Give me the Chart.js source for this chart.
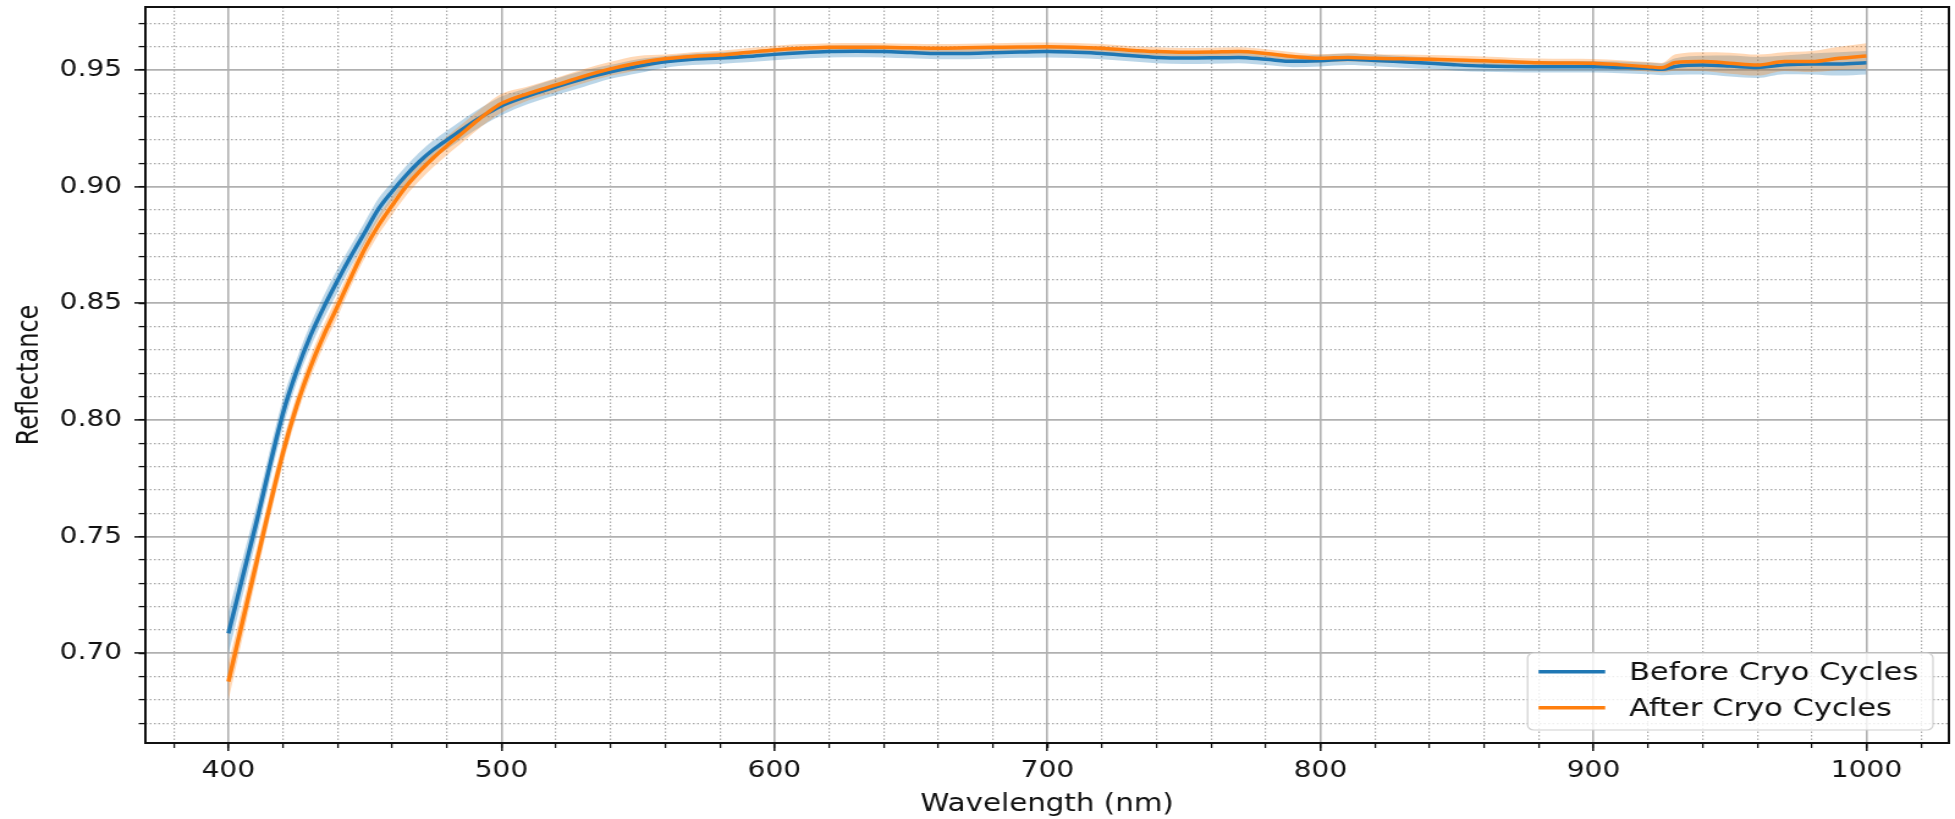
<!DOCTYPE html>
<html>
<head>
<meta charset="utf-8">
<title>Reflectance before and after cryo cycles</title>
<script src="https://cdn.jsdelivr.net/npm/chart.js@4.4.1/dist/chart.umd.min.js"></script>
<style>
  html, body { margin: 0; padding: 0; background: #fff; }
</style>
</head>
<body>
<!-- drawn at 1600 wide, shown at full page width; inline size keeps Chart.js from resetting it -->
<canvas id="spectrum" width="1600" height="819" style="display:block;width:1955px;height:819px"></canvas>
<script>
// Mean reflectance spectra (nm -> reflectance) and the sample spread around each mean
const wavelengths = [
  400, 410, 420, 425, 430, 435, 440, 445, 450, 455, 460, 465, 470, 475, 480, 485, 490, 495, 500,
  510, 520, 530, 540, 550, 560, 570, 580, 590, 600, 610, 620, 630, 640, 650, 660, 670, 680, 690, 700,
  710, 720, 730, 740, 750, 760, 770, 780, 790, 800, 810, 820, 830, 840, 850, 860, 870, 880, 890, 900,
  910, 920, 925, 930, 940, 950, 960, 970, 980, 990, 1000
];

const beforeCryo = [
  0.7086, 0.7550, 0.8030, 0.8210, 0.8360, 0.8485, 0.8598, 0.8705, 0.8805, 0.8905, 0.8980, 0.9048, 0.9108, 0.9158, 0.9200, 0.9240, 0.9280, 0.9315, 0.9346,
  0.9390, 0.9428, 0.9462, 0.9492, 0.9516, 0.9535, 0.9546, 0.9551, 0.9558, 0.9567, 0.9574, 0.9579, 0.9580, 0.9579, 0.9575, 0.9571, 0.9571, 0.9574, 0.9577, 0.9579,
  0.9576, 0.9571, 0.9562, 0.9554, 0.9551, 0.9552, 0.9554, 0.9546, 0.9537, 0.9540, 0.9546, 0.9541, 0.9535, 0.9529, 0.9522, 0.9517, 0.9515, 0.9514, 0.9514, 0.9514,
  0.9511, 0.9507, 0.9503, 0.9515, 0.9521, 0.9517, 0.9511, 0.9522, 0.9526, 0.9526, 0.9531
];

const afterCryo = [
  0.6879, 0.7375, 0.7860, 0.8060, 0.8225, 0.8365, 0.8488, 0.8615, 0.8735, 0.8835, 0.8920, 0.9000, 0.9065, 0.9123, 0.9175, 0.9223, 0.9272, 0.9318, 0.9357,
  0.9400, 0.9436, 0.9473, 0.9505, 0.9530, 0.9548, 0.9558, 0.9564, 0.9575, 0.9586, 0.9593, 0.9597, 0.9598, 0.9597, 0.9595, 0.9593, 0.9595, 0.9597, 0.9599, 0.9600,
  0.9598, 0.9593, 0.9585, 0.9579, 0.9576, 0.9577, 0.9579, 0.9571, 0.9558, 0.9550, 0.9554, 0.9550, 0.9548, 0.9546, 0.9543, 0.9540, 0.9535, 0.9531, 0.9530, 0.9529,
  0.9522, 0.9514, 0.9510, 0.9532, 0.9536, 0.9529, 0.9521, 0.9536, 0.9536, 0.9550, 0.9560
];

// half-width of the shaded band around each mean
const beforeSpread = [
  0.009, 0.007, 0.006, 0.005, 0.005, 0.005, 0.005, 0.0045, 0.0045, 0.0045, 0.004, 0.004, 0.004, 0.004, 0.004, 0.004, 0.004, 0.004, 0.004,
  0.0035, 0.0035, 0.0035, 0.003, 0.003, 0.0025, 0.0025, 0.0025, 0.0025, 0.0025, 0.0025, 0.0025, 0.0025, 0.0025, 0.0025, 0.0025, 0.0025, 0.0025, 0.0025, 0.0025,
  0.0025, 0.0025, 0.0025, 0.0025, 0.0025, 0.0025, 0.0025, 0.0025, 0.0025, 0.0025, 0.0025, 0.0025, 0.0025, 0.0025, 0.0025, 0.0025, 0.0025, 0.0025, 0.0025, 0.0025,
  0.0025, 0.0025, 0.0025, 0.0035, 0.004, 0.0045, 0.0045, 0.004, 0.0045, 0.005, 0.005
];

const afterSpread = [
  0.008, 0.006, 0.005, 0.0045, 0.0045, 0.0045, 0.0045, 0.004, 0.004, 0.004, 0.004, 0.004, 0.004, 0.004, 0.004, 0.004, 0.004, 0.004, 0.004,
  0.003, 0.003, 0.003, 0.003, 0.003, 0.0018, 0.0018, 0.0018, 0.0018, 0.0018, 0.0018, 0.0018, 0.0018, 0.0018, 0.0018, 0.0018, 0.0018, 0.0018, 0.0018, 0.0018,
  0.0018, 0.0018, 0.0018, 0.0018, 0.0018, 0.0018, 0.0018, 0.0018, 0.0018, 0.0018, 0.0018, 0.0018, 0.0018, 0.0018, 0.0018, 0.0018, 0.0018, 0.0018, 0.0018, 0.0018,
  0.002, 0.002, 0.002, 0.0035, 0.004, 0.0045, 0.0045, 0.004, 0.0045, 0.005, 0.0055
];

const seriesLabels = ['Before Cryo Cycles', 'After Cryo Cycles'];
const seriesColors = ['#1f77b4', '#ff7f0e'];
const bandColors = ['rgba(31, 119, 180, 0.3)', 'rgba(255, 127, 14, 0.3)'];

const xRange = [369.6, 1030.2];
const yRange = [0.6616, 0.977];
const xMajorStep = 100, xMinorStep = 20;
const yMajorStep = 0.05, yMinorStep = 0.01;

const FONT = 'DejaVu Sans';
const INK = '#111';

const toPoints = (ys, spread, sign) =>
  wavelengths.map((x, i) => ({ x, y: spread ? ys[i] + sign * spread[i] : ys[i] }));

const lineSet = (label, ys, color, order) => ({
  label,
  data: toPoints(ys),
  borderColor: color,
  backgroundColor: color,
  borderWidth: 3.5,
  pointRadius: 0,
  cubicInterpolationMode: 'monotone',
  fill: false,
  order
});

const bandSet = (ys, spread, sign, color, fill, order) => ({
  label: '',
  data: toPoints(ys, spread, sign),
  borderColor: 'rgba(0, 0, 0, 0)',
  borderWidth: 0,
  backgroundColor: color,
  pointRadius: 0,
  cubicInterpolationMode: 'monotone',
  fill,
  order
});

// axis boxes get fixed sizes so the plot area sits where it should
const noEdgePadding = s => { s.paddingTop = s.paddingBottom = s.paddingLeft = s.paddingRight = 0; };
const isMajor = (value, minor, major) => Math.round(value / minor) % Math.round(major / minor) === 0;

const minorGrid = (step, major) => ({
  color: c => (c.tick && isMajor(c.tick.value, step, major)) ? 'rgba(0, 0, 0, 0)' : 'rgba(140, 140, 140, 0.75)',
  lineWidth: 1.2,
  tickColor: INK,
  tickWidth: 1.3
});

const frame = {
  id: 'frame',
  afterDatasetsDraw(chart) {
    const { ctx, chartArea: a } = chart;
    ctx.save();
    ctx.strokeStyle = INK;
    ctx.lineWidth = 2;
    ctx.strokeRect(a.left, a.top, a.right - a.left, a.bottom - a.top);
    ctx.restore();
  }
};

// boxed legend tucked into the lower right corner of the plot
const cornerLegend = {
  id: 'cornerLegend',
  afterDraw(chart) {
    const { ctx, chartArea: a } = chart;
    const items = seriesLabels.map(l => chart.data.datasets.find(d => d.label === l));
    ctx.save();
    ctx.font = `25px "${FONT}"`;
    const textW = Math.max(...items.map(d => ctx.measureText(d.label).width));
    const w = 83 + textW + 12, h = 77;
    const left = a.right - 13 - w, top = a.bottom - 13 - h;

    ctx.beginPath();
    if (ctx.roundRect) ctx.roundRect(left, top, w, h, 5); else ctx.rect(left, top, w, h);
    ctx.fillStyle = 'rgba(255, 255, 255, 0.8)';
    ctx.fill();
    ctx.strokeStyle = '#d0d0d0';
    ctx.lineWidth = 1.2;
    ctx.stroke();

    items.forEach((d, i) => {
      const y = top + 18.7 + i * 36;
      ctx.beginPath();
      ctx.moveTo(left + 9, y);
      ctx.lineTo(left + 63.5, y);
      ctx.strokeStyle = d.borderColor;
      ctx.lineWidth = 3.5;
      ctx.stroke();
      ctx.fillStyle = INK;
      ctx.textBaseline = 'middle';
      ctx.textAlign = 'left';
      ctx.fillText(d.label, left + 83, y + 1.5);
    });
    ctx.restore();
  }
};

new Chart(document.getElementById('spectrum'), {
  type: 'line',
  data: {
    datasets: [
      lineSet(seriesLabels[1], afterCryo, seriesColors[1], 0),
      lineSet(seriesLabels[0], beforeCryo, seriesColors[0], 1),
      bandSet(beforeCryo, beforeSpread, 1, bandColors[0], '+1', 3),
      bandSet(beforeCryo, beforeSpread, -1, bandColors[0], false, 3),
      bandSet(afterCryo, afterSpread, 1, bandColors[1], '+1', 2),
      bandSet(afterCryo, afterSpread, -1, bandColors[1], false, 2)
    ]
  },
  options: {
    responsive: false,
    devicePixelRatio: 1,
    animation: false,
    events: [],
    layout: { padding: { top: 7, right: 5, bottom: 0, left: 0 } },
    plugins: {
      legend: { display: false },
      tooltip: { enabled: false }
    },
    scales: {
      x: {
        type: 'linear', axis: 'x', position: 'bottom', weight: 1,
        min: xRange[0], max: xRange[1],
        grid: { color: '#b0b0b0', lineWidth: 1.6, tickColor: INK, tickLength: 8, tickWidth: 1.5 },
        border: { display: false },
        ticks: {
          stepSize: xMajorStep, includeBounds: false, padding: 6, color: INK,
          maxRotation: 0, autoSkip: false,
          font: { family: FONT, size: 23 },
          callback: v => String(v)
        },
        title: {
          display: true, text: 'Wavelength (nm)', color: INK,
          font: { family: FONT, size: 24 }, padding: { top: 0, bottom: 0 }
        },
        afterFit: s => { s.height = 76; noEdgePadding(s); }
      },
      xMinor: {
        type: 'linear', axis: 'x', position: 'bottom', weight: 0,
        min: xRange[0], max: xRange[1],
        grid: { ...minorGrid(xMinorStep, xMajorStep), tickLength: 5 },
        border: { display: false, dash: [1.5, 2] },
        ticks: { stepSize: xMinorStep, includeBounds: false, display: false },
        afterFit: s => { s.height = 0; noEdgePadding(s); }
      },
      y: {
        type: 'linear', axis: 'y', position: 'left', weight: 1,
        min: yRange[0], max: yRange[1],
        grid: { color: '#b0b0b0', lineWidth: 1.8, tickColor: INK, tickLength: 9, tickWidth: 1.5 },
        border: { display: false },
        ticks: {
          stepSize: yMajorStep, includeBounds: false, padding: 10, color: INK,
          font: { family: FONT, size: 23 },
          callback: v => v.toFixed(2)
        },
        title: {
          display: true, text: 'Reflectance', color: INK,
          font: { family: FONT, size: 24 }, padding: { top: 10, bottom: 0 }
        },
        afterFit: s => { s.width = 119; noEdgePadding(s); }
      },
      yMinor: {
        type: 'linear', axis: 'y', position: 'left', weight: 0,
        min: yRange[0], max: yRange[1],
        grid: { ...minorGrid(yMinorStep, yMajorStep), tickLength: 5.5 },
        border: { display: false, dash: [1.5, 2] },
        ticks: { stepSize: yMinorStep, includeBounds: false, display: false },
        afterFit: s => { s.width = 0; noEdgePadding(s); }
      }
    }
  },
  plugins: [frame, cornerLegend]
});
</script>
</body>
</html>
